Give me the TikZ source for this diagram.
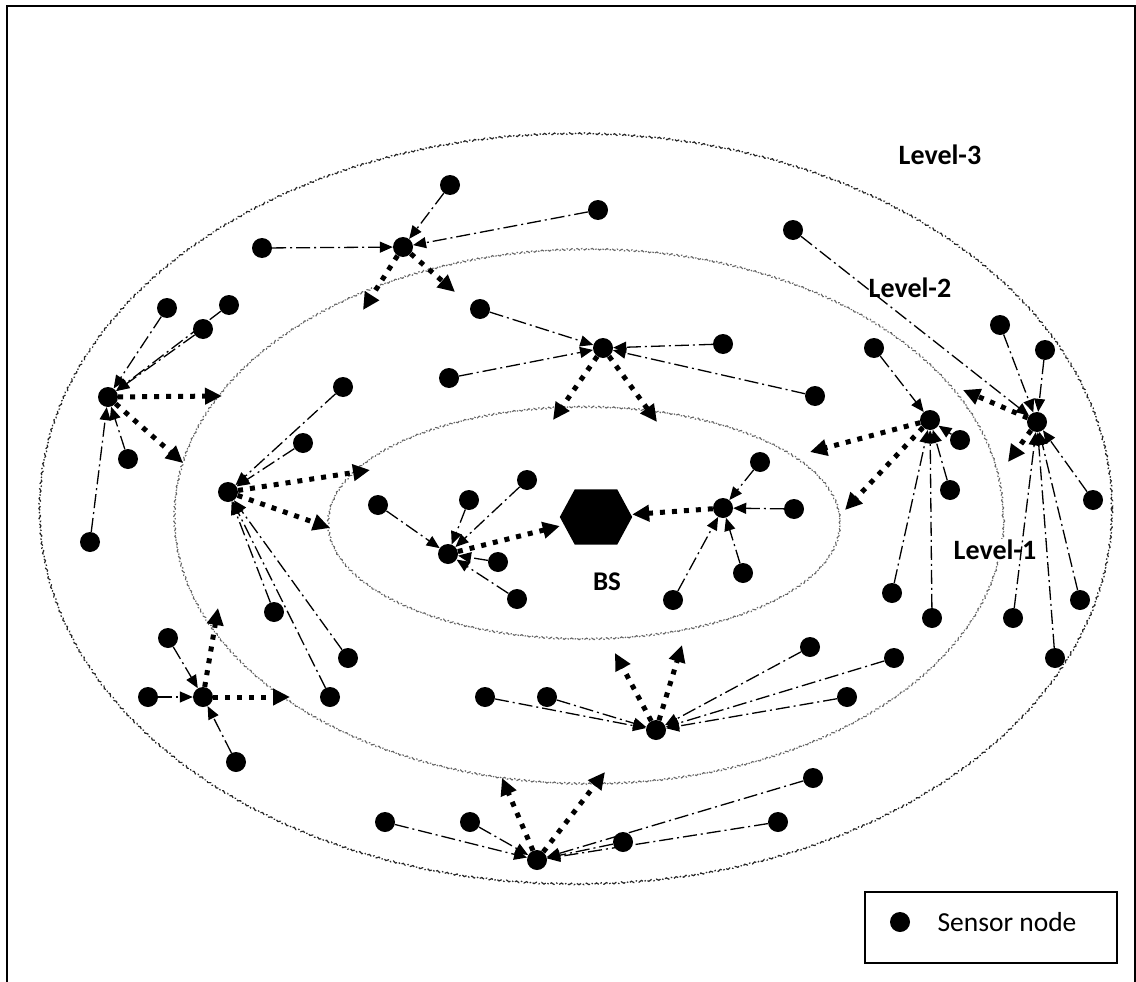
\documentclass[tikz,border=0pt]{standalone}
\usepackage{fontspec}
\setmainfont{Carlito}
\usetikzlibrary{arrows.meta,decorations.pathmorphing}

\begin{document}
\begin{tikzpicture}[x=1pt,y=-1pt,
  sensor/.style={circle,fill=black,minimum size=20pt,inner sep=0pt},
  feed/.style={line width=1.3pt,dash pattern=on 14pt off 4pt on 2pt off 4pt,
    -{Triangle[length=13pt,width=11pt]}},
  hop/.style={line width=5pt,dash pattern=on 5pt off 7pt,
    -{Triangle[length=17pt,width=16pt]}},
  ringouter/.style={draw=black!85,line width=1.2pt,
    dash pattern=on 5pt off 2pt on 1.5pt off 2pt,
    decorate,decoration={snake,amplitude=0.8pt,segment length=5pt}},
  ringinner/.style={draw=black!60,line width=1.1pt,
    dash pattern=on 4pt off 1.5pt on 1.5pt off 1.5pt,
    decorate,decoration={snake,amplitude=0.8pt,segment length=5pt}},
  lvl/.style={font=\fontsize{28}{32}\selectfont\bfseries,fill=white,inner sep=1pt}
]
\useasboundingbox (0,0) rectangle (1136,982);

% frame
\draw[line width=2pt] (7,982) -- (7,6) -- (1135,6) -- (1135,982);

% level rings
\draw[ringouter] (574.5,510) ellipse [x radius=537.5pt, y radius=376pt];
\draw[ringinner] (588,517) ellipse [x radius=415pt, y radius=267pt];
\draw[ringinner] (584,524) ellipse [x radius=256pt, y radius=116pt];

% level labels
\node[lvl] (lv3) at (940,155) {Level-3};
\node[lvl] (lv2) at (910,288) {Level-2};
\node[lvl] (lv1) at (995,550) {Level-1};

% base station: a flat-topped hexagon filling the node box
\node[minimum width=72pt,minimum height=55pt,inner sep=0pt] (bs) at (596,517) {};
\fill (bs.west) -- ([xshift=15pt]bs.north west) -- ([xshift=-15pt]bs.north east)
  -- (bs.east) -- ([xshift=-15pt]bs.south east) -- ([xshift=15pt]bs.south west) -- cycle;
\node[font=\fontsize{27}{32}\selectfont\bfseries] (bslabel) at (607,582) {BS};

% cluster heads
\node[sensor] (A) at (403,247) {};
\node[sensor] (B) at (108,397) {};
\node[sensor] (C) at (603,348) {};
\node[sensor] (D) at (930,420) {};
\node[sensor] (E) at (1037,422) {};
\node[sensor] (F) at (656,730) {};
\node[sensor] (G) at (723,508) {};
\node[sensor] (H) at (448,554) {};
\node[sensor] (I) at (228,492) {};
\node[sensor] (J) at (203,697) {};
\node[sensor] (K) at (537,860) {};

% member sensors
\node[sensor] (a1) at (450,185) {};
\node[sensor] (a2) at (598,210) {};
\node[sensor] (a3) at (262,248) {};
\node[sensor] (b1) at (167,308) {};
\node[sensor] (b2) at (229,305) {};
\node[sensor] (b3) at (203,329) {};
\node[sensor] (b4) at (128,459) {};
\node[sensor] (b5) at (90,542) {};
\node[sensor] (c1) at (480,309) {};
\node[sensor] (c2) at (449,378) {};
\node[sensor] (c3) at (723,344) {};
\node[sensor] (c4) at (815,396) {};
\node[sensor] (d1) at (874,348) {};
\node[sensor] (d2) at (960,440) {};
\node[sensor] (d3) at (950,490) {};
\node[sensor] (d4) at (892,593) {};
\node[sensor] (d5) at (932,618) {};
\node[sensor] (e1) at (793,230) {};
\node[sensor] (e2) at (1000,325) {};
\node[sensor] (e3) at (1045,350) {};
\node[sensor] (e4) at (1093,500) {};
\node[sensor] (e5) at (1080,600) {};
\node[sensor] (e6) at (1013,618) {};
\node[sensor] (e7) at (1055,658) {};
\node[sensor] (f1) at (485,697) {};
\node[sensor] (f2) at (547,697) {};
\node[sensor] (f3) at (810,647) {};
\node[sensor] (f4) at (894,658) {};
\node[sensor] (f5) at (847,697) {};
\node[sensor] (g1) at (760,462) {};
\node[sensor] (g2) at (794,509) {};
\node[sensor] (g3) at (743,573) {};
\node[sensor] (g4) at (673,600) {};
\node[sensor] (h1) at (378,505) {};
\node[sensor] (h2) at (469,500) {};
\node[sensor] (h3) at (527,480) {};
\node[sensor] (h4) at (498,562) {};
\node[sensor] (h5) at (517,599) {};
\node[sensor] (i1) at (343,387) {};
\node[sensor] (i2) at (303,443) {};
\node[sensor] (i3) at (274,612) {};
\node[sensor] (i4) at (348,658) {};
\node[sensor] (i5) at (330,697) {};
\node[sensor] (j1) at (148,697) {};
\node[sensor] (j2) at (168,638) {};
\node[sensor] (j3) at (236,762) {};
\node[sensor] (k1) at (385,822) {};
\node[sensor] (k2) at (470,822) {};
\node[sensor] (k3) at (623,842) {};
\node[sensor] (k4) at (813,778) {};
\node[sensor] (k5) at (778,822) {};

% members report to their cluster head
\foreach \m in {a1,a2,a3} \draw[feed] (\m) -- (A);
\foreach \m in {b1,b2,b3,b4,b5} \draw[feed] (\m) -- (B);
\foreach \m in {c1,c2,c3,c4} \draw[feed] (\m) -- (C);
\foreach \m in {d1,d2,d3,d4,d5} \draw[feed] (\m) -- (D);
\foreach \m in {e1,e2,e3,e4,e5,e6,e7} \draw[feed] (\m) -- (E);
\foreach \m in {f1,f2,f3,f4,f5} \draw[feed] (\m) -- (F);
\foreach \m in {g1,g2,g3,g4} \draw[feed] (\m) -- (G);
\foreach \m in {h1,h2,h3,h4,h5} \draw[feed] (\m) -- (H);
\foreach \m in {i1,i2,i3,i4,i5} \draw[feed] (\m) -- (I);
\foreach \m in {j1,j2,j3} \draw[feed] (\m) -- (J);
\foreach \m in {k1,k2,k3,k4,k5} \draw[feed] (\m) -- (K);

% cluster heads forward towards the inner level
\coordinate (tA1) at (363,310); \coordinate (tA2) at (455,292);
\coordinate (tB1) at (222,396); \coordinate (tB2) at (183,463);
\coordinate (tC1) at (553,420); \coordinate (tC2) at (657,422);
\coordinate (tD1) at (810,452); \coordinate (tD2) at (845,510);
\coordinate (tE1) at (963,390); \coordinate (tE2) at (1008,462);
\coordinate (tF1) at (615,653); \coordinate (tF2) at (682,645);
\coordinate (tI1) at (370,470); \coordinate (tI2) at (330,528);
\coordinate (tJ1) at (218,608); \coordinate (tJ2) at (290,697);
\coordinate (tK1) at (502,778); \coordinate (tK2) at (605,772);
\foreach \h/\t in {A/tA1,A/tA2,B/tB1,B/tB2,C/tC1,C/tC2,D/tD1,D/tD2,E/tE1,E/tE2,
  F/tF1,F/tF2,I/tI1,I/tI2,J/tJ1,J/tJ2,K/tK1,K/tK2}
  \draw[hop] (\h) -- (\t);
\draw[hop] (G) -- (bs);
\draw[hop] (H) -- (bs);

% legend
\node[draw,line width=1.1pt,minimum width=252pt,minimum height=71pt,inner sep=0pt] (legend) at (991,927.5) {};
\node[sensor] (legdot) at (900,922) {};
\node[anchor=west,font=\fontsize{27.5}{32}\selectfont] (legtext) at (934,922) {Sensor node};
\end{tikzpicture}
\end{document}
